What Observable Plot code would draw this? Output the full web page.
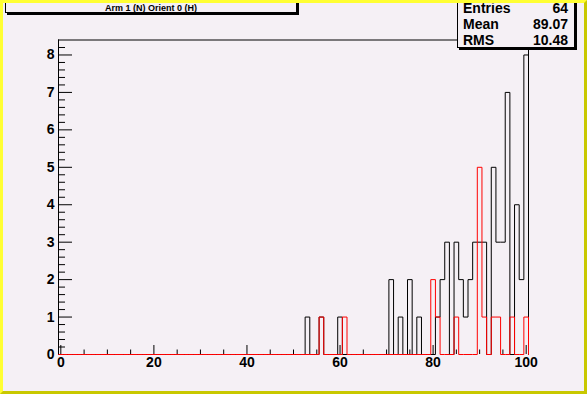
<!DOCTYPE html>
<html>
<head>
<meta charset="utf-8">
<script src="https://cdn.jsdelivr.net/npm/d3@7"></script>
<script src="https://cdn.jsdelivr.net/npm/@observablehq/plot@0.6"></script>
<style>
  html, body { margin: 0; padding: 0; background: #f5f0f5; }
  #wrap { position: relative; width: 587px; height: 394px; overflow: hidden; background: #f5f0f5; font-family: "Liberation Sans", Arial, sans-serif; }
  #wrap svg { position: absolute; left: 0; top: 0; }
  #border { position: absolute; left: 0; top: 0; width: 587px; height: 394px; box-sizing: border-box;
    border-style: solid; border-width: 3px; border-color: #ffff33 #c8c800 #c8c800 #ffff33; pointer-events: none; }
  #title { position: absolute; left: 5px; top: -3px; width: 292px; height: 16px; box-sizing: border-box;
    border: 1px solid #000; background: #f5f0f5; box-shadow: 2px 2px 0 #000;
    font-weight: bold; font-size: 9px; text-align: center; line-height: 10px; padding-top: 5px; }
  #stats { position: absolute; left: 457px; top: -3px; width: 118px; height: 51px; box-sizing: border-box;
    border: 1px solid #000; background: #f5f0f5; box-shadow: 2px 2px 0 #000; padding-top: 2px; }
  .row { position: relative; height: 16px; line-height: 16px; font-weight: bold; font-size: 14px; }
  .row .k { position: absolute; left: 5px; }
  .row .v { position: absolute; right: 6px; }
</style>
</head>
<body>
<div id="wrap"></div>
<script>
// Histogram contents (bin centre -> count), bins of width 1 from -0.5 to 100.5
const blackBins   = [53, 56, 60, 71, 73, 75, 77, 81, 82, 83, 85, 86, 87, 88, 89, 90, 91, 93, 94, 95, 96, 98, 99, 100];
const blackCounts = [ 1,  1,  1,  2,  1,  2,  1,  1,  2,  3,  3,  2,  1,  2,  3,  3,  3,  5,  3,  3,  7,  4,  2,   8];
const redBins   = [56, 61, 80, 81, 85, 90, 91, 93, 94, 97, 100];
const redCounts = [ 1,  1,  2,  1,  1,  5,  1,  1,  1,  1,   1];

const xMajorTicks = [0, 20, 40, 60, 80, 100];
const xMinorTicks = [5, 10, 15, 25, 30, 35, 45, 50, 55, 65, 70, 75, 85, 90, 95];
const yMajorTicks = [0, 1, 2, 3, 4, 5, 6, 7, 8];
const yMinorTicks = d3.range(0, 42).map(i => +(i * 0.2).toFixed(1)).filter(v => Math.abs(v - Math.round(v)) > 1e-6);

const title = "Arm 1 (N) Orient 0 (H)";
const statLabels = ["Entries", "Mean", "RMS"];
const statValues = ["64", "89.07", "10.48"];

const xDomain = [-0.5, 100.5];
const yDomain = [0, 8.4];

function steps(bins, counts) {
  const m = new Map(bins.map((b, i) => [b, counts[i]]));
  const pts = [{x: xDomain[0], y: 0}];
  for (let k = 0; k <= 100; k++) {
    const v = m.get(k) || 0;
    pts.push({x: k - 0.5, y: v}, {x: k + 0.5, y: v});
  }
  pts.push({x: xDomain[1], y: 0});
  return pts;
}

const W = 587, H = 394, mL = 58, mR = 59, mT = 39.5, mB = 40;
const frameW = W - mL - mR, frameH = H - mT - mB;

const chart = Plot.plot({
  width: W, height: H,
  marginLeft: mL, marginRight: mR, marginTop: mT, marginBottom: mB,
  style: {background: "transparent", fontFamily: "Liberation Sans, Arial, sans-serif", color: "#000"},
  x: {domain: xDomain},
  y: {domain: yDomain},
  marks: [
    Plot.ruleX([xDomain[1]], {stroke: "#000"}),
    Plot.ruleY([yDomain[1]], {stroke: "#000"}),
    Plot.tickX(xMinorTicks, {x: d => d, insetTop: frameH - 4.5, stroke: "#000"}),
    Plot.tickX(xMajorTicks, {x: d => d, insetTop: frameH - 9, stroke: "#000"}),
    Plot.tickY(yMinorTicks, {y: d => d, insetRight: frameW - 7, stroke: "#000"}),
    Plot.tickY(yMajorTicks, {y: d => d, insetRight: frameW - 14, stroke: "#000"}),
    Plot.line(steps(blackBins, blackCounts), {x: "x", y: "y", stroke: "#000", strokeWidth: 1}),
    Plot.line(steps(redBins, redCounts), {x: "x", y: "y", stroke: "#ff0000", strokeWidth: 1}),
    Plot.ruleX([xDomain[0]], {stroke: "#000"}),
    Plot.axisX(xMajorTicks, {tickSize: 0, tickPadding: 3, fontSize: 14, fontWeight: "bold", label: null}),
    Plot.axisY(yMajorTicks, {tickSize: 0, tickPadding: 4, fontSize: 14, fontWeight: "bold", label: null})
  ]
});

const wrap = document.getElementById("wrap");
wrap.appendChild(chart);

const t = document.createElement("div");
t.id = "title"; t.textContent = title;
wrap.appendChild(t);

const s = document.createElement("div");
s.id = "stats";
statLabels.forEach((k, i) => {
  const r = document.createElement("div"); r.className = "row";
  const a = document.createElement("span"); a.className = "k"; a.textContent = k;
  const b = document.createElement("span"); b.className = "v"; b.textContent = statValues[i];
  r.appendChild(a); r.appendChild(b); s.appendChild(r);
});
wrap.appendChild(s);

const bd = document.createElement("div"); bd.id = "border";
wrap.appendChild(bd);
</script>
</body>
</html>
